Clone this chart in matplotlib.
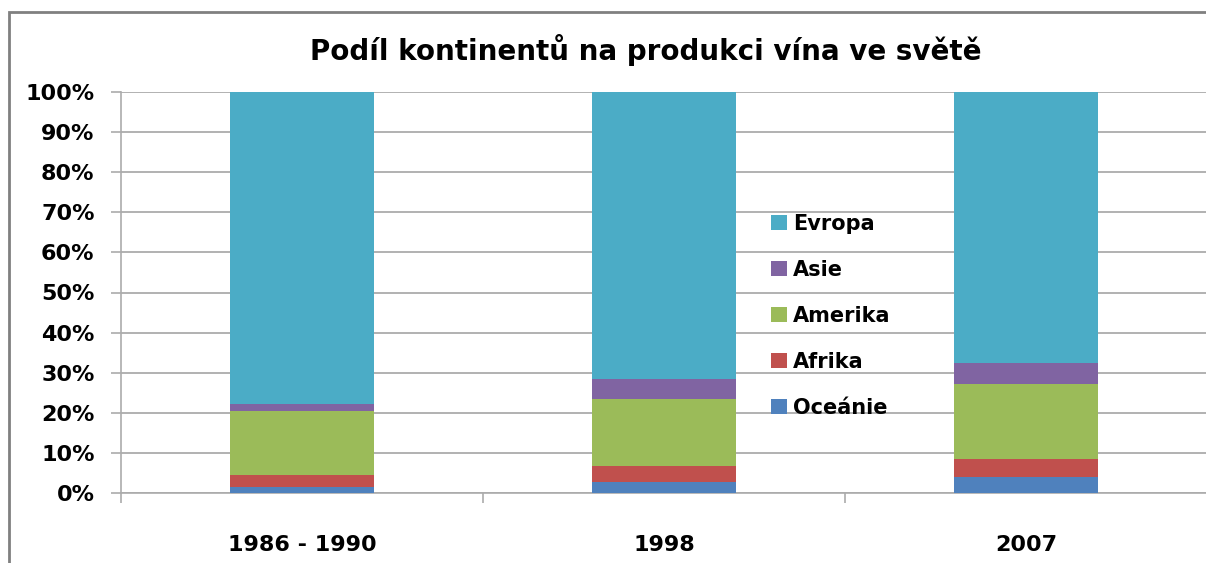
import numpy as np
import matplotlib.pyplot as plt
from matplotlib.patches import Rectangle

# share of world wine production (%)
periods = ["1986 - 1990", "1998", "2007"]
oceanie = [1.6, 2.8, 4.1]
afrika = [2.8, 3.9, 4.5]
amerika = [16.1, 16.7, 18.7]
asie = [1.6, 5.0, 5.0]
evropa = [77.9, 71.6, 67.7]

series = [("Oceánie", oceanie), ("Afrika", afrika), ("Amerika", amerika),
          ("Asie", asie), ("Evropa", evropa)]
colors = ["#4F81BD", "#C0504D", "#9BBB59", "#8064A2", "#4BACC6"]

plt.rcParams['font.family'] = ['DejaVu Sans']
grey = "#ababab"

fig = plt.figure(figsize=(12.06, 5.63), dpi=100)
ax = fig.add_axes([121 / 1206, 1 - 493 / 563, 1086 / 1206, 401 / 563])

x = np.arange(len(periods))
bottom = np.zeros(len(periods))
handles = []
for (name, vals), c in zip(series, colors):
    b = ax.bar(x, vals, width=0.4, bottom=bottom, color=c, label=name, zorder=3)
    handles.append(b)
    bottom += np.array(vals)

ax.set_xlim(-0.5, 2.5)
ax.set_ylim(0, 100)
ax.set_yticks(np.arange(0, 101, 10))
ax.set_yticklabels([f"{v}%" for v in range(0, 101, 10)], fontsize=16, fontweight="bold")
ax.yaxis.grid(True, color=grey, lw=1.3, zorder=0)
ax.tick_params(axis="y", length=7, width=1.2, color=grey, pad=12)

ax.set_xticks(x)
ax.set_xticklabels(periods, fontsize=16, fontweight="bold")
ax.set_xticks([-0.5, 0.5, 1.5, 2.5], minor=True)
ax.tick_params(axis="x", which="major", length=0, pad=30)
ax.tick_params(axis="x", which="minor", length=7, width=1.2, color=grey)

for s in ["top", "right"]:
    ax.spines[s].set_visible(False)
for s in ["left", "bottom"]:
    ax.spines[s].set_color(grey)
    ax.spines[s].set_linewidth(1.2)

leg = ax.legend(handles[::-1], [h.get_label() for h in handles[::-1]],
                loc="center left", bbox_to_anchor=(761 / 1206, 1 - 316 / 563),
                bbox_transform=fig.transFigure, frameon=False,
                prop={"size": 15, "weight": "bold"},
                handlelength=0.75, handleheight=0.75, handletextpad=0.3,
                labelspacing=1.25, borderpad=0)

fig.text(646 / 1206, 1 - 50 / 563, "Podíl kontinentů na produkci vína ve světě",
         ha="center", va="center", fontsize=20, fontweight="bold")

fig.patches.append(Rectangle((9 / 1206, -0.1), 1.2, 0.1 + 1 - 12 / 563,
                             transform=fig.transFigure, fill=False,
                             edgecolor="#808080", lw=2))

plt.savefig("out.png", dpi=100)
